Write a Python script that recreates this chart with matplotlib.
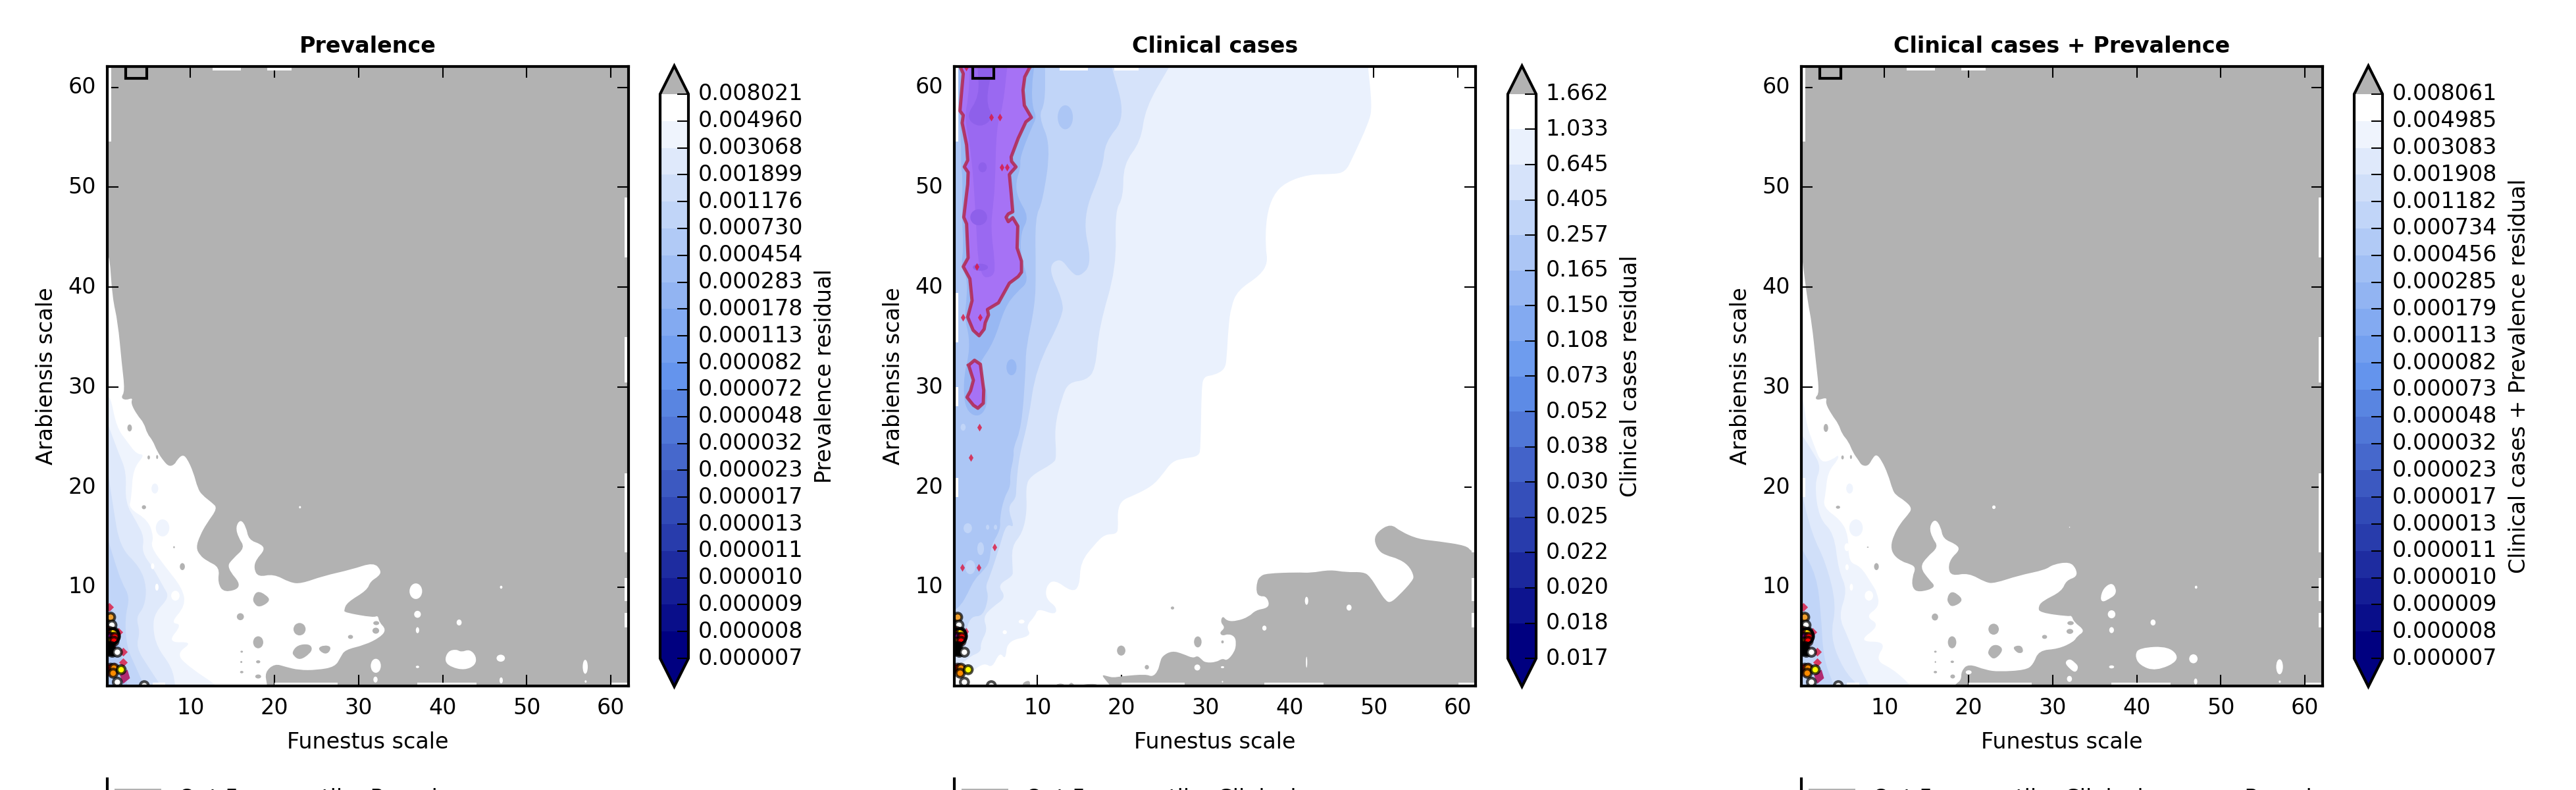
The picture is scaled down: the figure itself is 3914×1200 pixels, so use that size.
import matplotlib
matplotlib.use('Agg')
import matplotlib.pyplot as plt
from matplotlib.cm import ScalarMappable
from matplotlib.colors import BoundaryNorm, LinearSegmentedColormap
from matplotlib.lines import Line2D
from matplotlib.patches import Ellipse, PathPatch, Rectangle
from matplotlib.path import Path

# colorbar levels, as printed
levels_prev = [0.000007, 0.000008, 0.000009, 0.000010, 0.000011, 0.000013, 0.000017, 0.000023, 0.000032, 0.000048, 0.000072,
	0.000082, 0.000113, 0.000178, 0.000283, 0.000454, 0.000730, 0.001176, 0.001899, 0.003068, 0.004960, 0.008021]
levels_clin = [0.017, 0.018, 0.020, 0.022, 0.025, 0.030, 0.038, 0.052, 0.073, 0.108, 0.150, 0.165, 0.257, 0.405, 0.645, 1.033, 1.662]
levels_both = [0.000007, 0.000008, 0.000009, 0.000010, 0.000011, 0.000013, 0.000017, 0.000023, 0.000032, 0.000048, 0.000073,
	0.000082, 0.000113, 0.000179, 0.000285, 0.000456, 0.000734, 0.001182, 0.001908, 0.003083, 0.004985, 0.008061]

# prevalence: edge of the white area against the grey
prev_white = [(0.1, 43), (0.39, 43), (0.7, 39), (1.36, 36.5), (1.82, 32.4), (2.2, 29.6), (1.71, 28.95), (2.3, 28.7), (3.15, 28.95), (2.89, 28.4),
	(3.67, 27.2), (4.46, 26.43), (4.85, 25.34), (5.5, 24.68), (6.03, 23.59), (6.81, 22.6), (7.46, 22.06), (8.12, 22.28), (8.38, 22.71),
	(9.03, 23.26), (9.56, 22.93), (10.34, 21.51), (10.86, 19.87), (11.39, 19.21), (12.56, 18.45), (13.22, 17.9), (11.91, 16.37), (11.12, 15.16),
	(10.65, 13.96), (11.12, 13.19), (11.91, 12.65), (13.48, 11.99), (13.22, 10.46), (14.0, 9.41), (16.27, 10.02), (14.26, 11.99), (15.05, 12.87),
	(16.48, 13.96), (15.7, 14.95), (15.36, 16.04), (15.96, 16.81), (16.61, 16.04), (16.93, 14.73), (18.44, 14.29), (18.84, 13.74), (17.79, 12.76),
	(17.53, 11.88), (18.05, 11.01), (19.88, 11.33), (21.84, 10.46), (23.15, 10.35), (25.76, 11.12), (29.16, 11.77), (31.78, 12.49), (32.69, 11.66),
	(32.43, 11.12), (31.39, 10.57), (30.99, 9.69), (28.64, 8.49), (28.25, 7.72), (28.38, 7.46), (31.78, 6.96), (32.3, 7.18), (32.43, 6.52),
	(33.29, 5.75), (32.56, 4.99), (30.73, 4.22), (28.38, 3.74), (27.86, 3.02), (27.2, 2.03), (24.98, 1.71), (22.89, 1.71), (21.32, 2.03),
	(20.01, 2.36), (18.84, 1.49), (19.1, 0.28), (19.1, 0.1), (0.1, 0.1)]
prev_grey_holes = [[(17.4, 8.93), (17.92, 9.65), (18.97, 9.25), (19.54, 8.64), (18.2, 7.94), (17.53, 8.38)],
	[(22.1, 3.57), (22.76, 4.22), (24.07, 4.33), (24.51, 3.9), (24.2, 3.35), (23.02, 2.69), (22.24, 3.13)],
	[(25.11, 3.9), (25.9, 4.22), (26.76, 4.05), (26.42, 3.39), (25.76, 3.35)]]
prev_grey_spots = [(22.97, 5.8, 0.72, 0.62), (18.05, 4.49, 0.6, 0.6), (15.93, 7.05, 0.42, 0.35), (9.03, 12.06, 0.3, 0.35), (2.76, 25.93, 0.27, 0.35),
	(4.46, 18.0, 0.25, 0.2), (5.03, 22.98, 0.15, 0.2), (6.03, 23.02, 0.12, 0.2), (32.04, 5.65, 0.4, 0.3), (32.09, 6.41, 0.35, 0.2), (29.03, 5.03, 0.3, 0.2),
	(16.09, 3.55, 0.15, 0.1), (16.04, 2.52, 0.12, 0.1), (16.09, 1.51, 0.2, 0.12), (18.05, 2.54, 0.25, 0.15), (18.05, 1.07, 0.35, 0.2), (8.04, 14.0, 0.1, 0.1)]
prev_white_blob = [(40.2, 2.6), (40.6, 3.6), (41.6, 3.8), (42.2, 3.5), (43.2, 3.8), (44.0, 3.1), (43.9, 2.2), (42.6, 1.7), (41.0, 2.0)]
prev_white_spots = [(36.8, 9.6, 0.75, 0.78), (37.0, 7.29, 0.4, 0.35), (37.0, 5.7, 0.2, 0.3), (23.02, 18.0, 0.12, 0.12), (32.04, 2.14, 0.6, 0.7), (32.0, 0.76, 0.25, 0.3),
	(37.0, 2.03, 0.2, 0.12), (46.9, 2.9, 0.5, 0.35), (56.95, 2.04, 0.3, 0.7), (41.95, 6.47, 0.3, 0.3), (46.95, 10.0, 0.15, 0.15), (46.95, 0.68, 0.2, 0.3), (57.0, 0.57, 0.12, 0.12)]
prev_bands = [[(0.1, 29), (0.5, 29), (1.2, 26), (2.5, 24.5), (3.6, 23.3), (4.59, 23.26), (3.15, 21.84), (2.97, 18.88), (2.63, 17.9), (4.98, 16.7), (5.63, 14.95),
		(5.24, 14.07), (6.94, 12.1), (9.03, 9.91), (9.42, 8.16), (7.59, 6.41), (9.03, 6.3), (7.2, 4.44), (10.34, 4.55), (8.28, 3.35), (9.82, 2.03), (12.95, 0.28), (12.95, 0.1)],
	[(0.1, 26.5), (1.4, 23.5), (2.4, 21.5), (2.2, 18.5), (3.6, 16.5), (4.5, 15), (4.2, 13.5), (5.5, 12), (6.8, 10), (7.5, 9), (5.8, 7.5), (5.5, 6), (6, 4), (7.8, 2), (8.2, 0.1)],
	[(0.1, 22), (0.8, 18), (1.6, 14), (4, 12), (4.8, 10), (4.5, 8), (3.5, 7), (4, 5.5), (3.5, 4), (5, 2), (6.5, 0.1)],
	[(0.1, 15), (1, 12.5), (1.8, 10.5), (2.8, 9), (2.2, 7), (2.4, 4), (3.5, 2), (4.5, 0.1)],
	[(0.1, 8.5), (1.2, 7), (1.8, 3), (2.5, 0.1)]]
prev_band_values = [0.004, 0.0025, 0.0015, 0.0009, 0.0006]
prev_light_spots = [(6.68, 15.93, 0.8, 0.85), (5.76, 19.87, 0.4, 0.5)]
prev_clear_spots = [(8.2, 9.15, 0.5, 0.5), (5.5, 12.1, 0.2, 0.3), (6.0, 10.0, 0.2, 0.35)]

# clinical cases: nested tints, lightest first
clin_bands = [[(49.3, 62.1), (49.8, 58), (49.4, 56.5), (47.5, 53), (46.6, 51.5), (45, 51.3), (42.3, 51.3), (39.5, 50.5), (38, 49.2), (37.2, 47), (37.1, 44), (37.4, 42.5), (36.5, 41.2), (33.8, 39.7), (33, 38),
		(32.7, 36), (32.5, 33), (32.3, 31.8), (31, 31.2), (29.8, 31.1), (29.5, 30), (29.4, 24), (29.2, 23.1), (27.5, 22.9), (26, 22.6), (24.8, 21.2), (23.6, 20.1), (21.5, 19.2), (20, 18.7), (19.5, 17.6), (19.6, 16),
		(19.4, 15.3), (18, 15.3), (16.8, 14.3), (15.1, 12.5), (15, 10.1), (14.1, 9.5),
		(12, 10.8), (11, 10.1), (11, 8.8), (12.3, 8), (12.1, 7.2), (10.05, 7.9), (9.7, 7.1), (8.6, 6.1), (9.3, 5.1), (6.4, 4.65), (6.2, 2.7), (5.5, 3.55), (4.6, 1.9), (3.7, 2.45),
		(2.2, 1.6), (1.5, 1.1), (0.1, 0.9)],
	[(25.7, 62.1), (22.8, 57.9), (22.3, 54.6), (20.2, 52.3), (20.2, 49), (19.2, 47.6), (19.4, 42), (17.3, 36), (16.9, 31.8), (15.8, 30.7), (13.7, 30.5), (12.9, 29), (12, 26),
		(12.27, 23), (11.9, 22.4), (9.1, 21.1), (8.6, 20), (8.75, 17.6), (8.2, 15.4), (6.9, 14.1), (7.05, 11.7), (7.05, 11.1), (5.2, 10.2), (6.3, 9), (4.6, 8), (3.5, 7), (4.06, 5.75),
		(3.2, 4.4), (3.3, 3.55), (2, 3.1), (1.2, 2.45), (0.3, 2.25), (0.1, 2.25)],
	[(18.8, 62.1), (20.5, 57), (18, 54.5), (17.8, 52), (15.3, 47), (16.5, 42.4), (15, 41), (14, 41.5), (12.7, 43), (11.2, 42), (13, 38.7), (13, 37.1), (9.8, 31.9), (8.9, 26.6),
		(7.8, 23.1), (7.45, 20), (7.45, 18.9), (6.4, 18), (7.3, 15.9), (6.3, 16.4), (5.5, 14.1), (4.3, 11), (3.8, 10.1), (4.2, 9), (3.5, 7.1), (2.1, 7.1), (1.5, 5.75), (0.9, 3.55), (0.1, 3.1)],
	[(10.9, 62.1), (10.9, 58.4), (10.1, 57.1), (11.6, 54.2), (10.6, 48.5), (9.7, 47), (9.8, 41.5), (9.7, 38.2), (8.6, 33.8), (8.6, 31.8), (8.1, 26), (7.1, 23.9), (7.2, 23.1), (6.7, 21.3),
		(6.8, 20.1), (6, 18.9), (5.5, 16.9), (5.6, 15.8), (4.45, 14.1), (4.3, 12.5), (3.5, 11.6), (2.5, 10.8), (1.7, 9.4), (0.9, 8.2), (0.1, 7.7)]]
clin_band_values = [0.8, 0.5, 0.3, 0.2]
clin_dark = [(9.6, 62.1), (9.3, 60), (9.4, 58), (9.9, 57), (9.3, 56), (7.9, 53), (8, 52), (7.4, 50.5), (7.6, 49), (9, 47), (8, 45.5), (8, 43), (9, 40.6), (7.5, 39.5), (6.1, 38), (4.8, 34.5), (3, 32.3),
	(2.6, 31), (4, 30), (4, 28), (3, 27), (1.7, 27.5), (1.2, 29), (1.3, 31.5), (1.8, 33), (1.9, 35), (1.3, 37), (1.6, 39), (1.6, 41), (0.9, 42), (1.2, 44), (1, 47), (1.1, 51), (0.9, 52), (0.9, 55), (0.6, 57.5), (0.6, 62.1)]
clin_dark_value = 0.157
clin_spots = [(16.2, 57, 0.6, 0.7, 0.3), (13.3, 57, 0.9, 1.2, 0.2), (6.9, 32, 0.6, 0.8, 0.157), (3.23, 13.86, 0.4, 0.65, 0.3), (1.7, 15.9, 0.5, 0.5, 0.3), (2, 12, 0.6, 0.7, 0.3),
	(2.9, 9, 0.5, 0.4, 0.3), (4.06, 16, 0.2, 0.25, 0.3), (5, 16, 0.2, 0.25, 0.3), (1.15, 26, 0.3, 0.35, 0.3), (8.1, 6.56, 0.35, 0.2, 1.2), (6.1, 5.5, 0.25, 0.2, 1.2)]

clin_grey = [(18.7, 0.1), (18.2, 0.6), (17.6, 1.25), (18.3, 1.1), (19, 0.95), (20, 1.1), (22.9, 1.3), (23.65, 1.03), (24.3, 1.58), (24.56, 2.45), (24.82, 3.11), (26.0, 3.65), (27.31, 3.33),
	(28.49, 2.89), (29.0, 3.15), (29.45, 2.84), (29.92, 2.45), (31.23, 2.49), (32.01, 2.89), (32.54, 2.63), (33.45, 3.55), (33.63, 4.42), (33.45, 5.08), (32.67, 5.34), (32.01, 5.12),
	(31.62, 5.45), (32.33, 5.95), (31.75, 6.5), (32.01, 7.16), (32.54, 6.61), (33.71, 6.61), (35.15, 7.05), (35.93, 7.7), (37.37, 7.92), (37.56, 8.47), (37.11, 9.12), (36.46, 9.06),
	(36.01, 9.45), (36.09, 10.55), (36.46, 11.09), (37.24, 11.38), (40.9, 11.49), (42.47, 11.42), (44.82, 11.75), (46.65, 11.49), (48.75, 11.53), (49.53, 11.09), (50.58, 9.67),
	(51.37, 8.69), (51.93, 8.42), (52.93, 9.12), (54.63, 10.66), (54.76, 11.2), (54.11, 12.19), (52.93, 12.84), (51.5, 13.17), (50.58, 13.61), (50.0, 14.7), (50.45, 15.58), (52.01, 16.35),
	(53.18, 15.58), (55.28, 14.81), (57.63, 14.6), (61.03, 14.16), (61.55, 13.61), (62.1, 13.61), (62.1, 0.1)]
clin_grey_bits = [[(8.2, 0.1), (8.3, 0.5), (9.1, 0.7), (9.1, 0.1)], [(12, 0.1), (12.5, 0.4), (13.2, 0.3), (13.2, 0.1)], [(13.6, 0.1), (14, 0.55), (14.5, 0.1)], [(15, 0.1), (15.5, 0.3), (17, 0.35), (17.2, 0.1)]]
clin_grey_spots = [(19.95, 3.66, 0.5, 0.5), (23, 2.0, 0.25, 0.22), (26.05, 7.92, 0.2, 0.15), (29.06, 4.53, 0.45, 0.55), (32, 4.53, 0.15, 0.15)]
clin_white_spots = [(42, 8.64, 0.2, 0.4), (47.05, 7.96, 0.3, 0.3), (36.98, 5.91, 0.25, 0.25), (29.0, 1.97, 0.35, 0.3), (32, 2.0, 0.2, 0.1), (42, 2.5, 0.08, 0.55), (32, 0.55, 0.08, 0.08)]

# purple area with the crimson outline
purple_main = [(9.14, 62.1), (8.48, 61.04), (8.27, 59.72), (8.43, 58.19), (9.27, 56.98), (8.61, 56.54), (7.7, 54.9), (6.86, 53.03), (6.91, 52.59), (7.44, 52.04), (6.86, 51.5), (6.65, 51.27),
	(6.86, 49.41), (7.05, 47.55), (6.52, 47.33), (6.26, 47.0), (6.52, 46.56), (7.05, 46.96), (7.65, 46.12), (7.57, 43.93), (8.09, 42.61), (8.09, 41.51), (7.7, 41.07), (6.65, 40.41), (5.35, 38.44),
	(4.04, 37.78), (4.17, 37.23), (3.78, 36.46), (3.65, 35.81), (3.05, 35.15), (2.34, 35.7), (1.69, 37.01), (2.21, 38.66), (1.95, 40.85), (1.16, 42.06), (1.74, 42.94), (1.56, 46.34), (1.22, 47.0),
	(1.69, 50.29), (1.74, 51.5), (1.29, 52.04), (1.69, 52.7), (1.56, 54.24), (1.03, 56.43), (1.16, 57.2), (0.77, 57.64), (1.03, 60.16), (1.16, 61.37), (0.77, 62.1)]
purple_lobe = [(1.8, 32.2), (2.5, 32.7), (3.2, 32.3), (3.6, 29.7), (3.55, 28.4), (2.9, 27.9), (2.37, 28.2), (1.6, 29), (2.03, 29.65), (2.37, 30.7)]
purple_mid = [(1.95, 62.1), (6.4, 62.1), (5.87, 58), (5.1, 56), (4.95, 50.3), (4.7, 48.1), (4.43, 45.9), (4.95, 42.4), (4.8, 41), (3, 41), (2.6, 48.1), (2.1, 53.6), (1.3, 57), (1.8, 59)]
purple_deep = [(2.86, 62.1), (4.7, 62.1), (3.8, 58.6), (4.8, 56.9), (3.1, 55.9), (1.4, 57), (3.1, 59.1)]
purple_deep_spots = [(3, 47, 1.0, 0.8), (3.46, 52, 0.5, 0.5), (3.2, 42, 0.9, 0.35)]

crimson_x = [4.5, 5.48, 6.4, 5.7, 2.73, 3.12, 1.08, 3.07, 2.03, 4.9, 1.07, 3.02, 1.5, 1.5]
crimson_y = [57.0, 57.0, 52.0, 52.0, 42.06, 37.0, 37.0, 26.0, 23.0, 14.0, 12.0, 12.0, 5.57, 62.0]

# crimson bits under the points of the two prevalence maps
residue_x = [0.35, 1.45, 0.93, 1.97, 1.97, 0.67, 1.0, 0.4]
residue_y = [8.05, 5.5, 3.68, 3.57, 2.5, 1.8, 2.0, 1.5]
residue_box = [(1.6, 1.2), (2.5, 1.75), (2.8, 0.9), (2.0, 0.35)]

# the clinical cases + prevalence map
both_white = [(0.1, 43), (0.2, 43), (0.4, 41.5), (0.87, 38.5), (1.33, 36.5), (1.85, 32.4), (2.25, 29.4), (1.71, 28.95), (2.05, 28.69), (3.18, 29), (2.96, 28.4), (3.75, 27.2), (4.53, 26.32), (4.92, 25.34),
	(5.71, 24.57), (6.23, 23.48), (6.89, 22.71), (7.28, 22.17), (8.07, 22.12), (8.59, 22.93), (9.03, 23.3), (9.63, 22.71), (10.41, 21.29), (10.94, 19.76), (11.33, 19.21), (12.38, 18.67), (13.29, 17.9),
	(12.77, 17.24), (11.86, 16.37), (11.07, 15.16), (10.73, 14.07), (11.07, 13.19), (12.12, 12.54), (12.9, 12.36), (13.74, 11.99), (13.29, 11.01), (13.29, 9.91), (14.08, 9.47), (16.17, 9.98), (15.25, 10.79),
	(14.21, 11.99), (14.99, 12.98), (16.43, 14.03), (15.65, 14.95), (15.31, 16.04), (15.99, 16.87), (16.69, 16.04), (16.95, 14.84), (18.52, 14.29), (18.97, 13.74), (17.87, 12.87), (17.56, 11.88), (18, 11.12),
	(19.96, 11.44), (22.05, 10.46), (23.1, 10.39), (25.97, 11.18), (29.11, 11.73), (30.03, 12.28), (32.0, 12.54), (32.77, 11.88), (32.9, 11.05), (31.6, 10.68), (31.07, 9.58), (28.72, 8.6), (28.27, 7.99),
	(28.46, 7.46), (31.85, 7.07), (32.25, 7.18), (32.51, 6.52), (33.87, 5.65), (32.9, 5.1), (32.51, 4.55), (30.68, 3.83), (28.33, 3.68), (27.67, 2.25), (26.76, 1.71), (23.62, 1.55), (22.05, 1.71), (19.96, 2.36),
	(19.12, 1.6), (19.12, 0.72), (18.4, 0.28), (18.4, 0.1), (0.1, 0.1)]
both_grey_holes = [[(17.42, 8.93), (17.87, 9.58), (18.65, 9.36), (19.39, 8.64), (18.08, 7.99), (17.56, 8.38)],
	[(22.26, 3.57), (22.78, 4.22), (23.62, 4.22), (24.14, 3.68), (23.1, 2.73), (22.44, 3.13)],
	[(25.24, 4.05), (26.24, 4.22), (26.55, 3.57), (26.1, 3.35), (25.58, 3.57)]]
both_grey_spots = [(3.02, 25.93, 0.27, 0.4), (4.46, 18.0, 0.25, 0.15), (5.0, 22.98, 0.15, 0.2), (6.0, 23.02, 0.12, 0.2), (9.03, 12.06, 0.28, 0.35), (15.99, 7.02, 0.38, 0.35), (22.97, 5.8, 0.62, 0.55),
	(18.03, 4.49, 0.5, 0.6), (29.03, 5.03, 0.3, 0.2), (32.12, 6.41, 0.38, 0.2), (32.04, 5.58, 0.4, 0.25), (16.04, 3.55, 0.15, 0.1), (16.04, 2.52, 0.08, 0.1), (16.04, 1.51, 0.2, 0.12), (18.05, 2.54, 0.2, 0.12),
	(18.1, 1.07, 0.28, 0.2), (8.0, 14.0, 0.1, 0.06)]
both_white_blobs = [[(35.65, 8.93), (36.04, 9.91), (37, 10.46), (37.53, 9.91), (37.48, 9.25), (36.69, 8.82), (35.91, 8.49)],
	[(31.41, 2.47), (31.99, 2.87), (32.64, 2.47), (33.09, 2.03), (32.72, 1.42), (31.99, 1.86)],
	[(39.76, 3.2), (40.3, 3.95), (43.9, 4.1), (45.2, 2.7), (42.26, 1.58), (40.3, 2.2)]]
both_white_spots = [(37, 7.29, 0.45, 0.4), (37, 5.71, 0.28, 0.3), (23, 18, 0.2, 0.18), (32, 16, 0.06, 0.05), (31.99, 0.83, 0.3, 0.3), (37, 2.03, 0.3, 0.15), (20, 1.49, 0.35, 0.2), (46.73, 2.84, 0.5, 0.45),
	(47, 0.57, 0.2, 0.3), (41.93, 6.47, 0.3, 0.3), (47.05, 10, 0.15, 0.15), (56.98, 2.04, 0.4, 0.75), (57, 0.55, 0.12, 0.12)]
both_bands = [[(0.1, 29), (0.35, 28.7), (0.75, 26.1), (1.66, 24.1), (2.45, 22.4), (3.9, 22.8), (4.5, 23.26), (4.5, 22.8), (3.23, 21.5), (2.97, 19.3), (2.66, 18), (4.8, 16.7), (5.7, 15.2), (5.7, 12.5), (7.15, 12.1),
		(8.46, 10.35), (9.1, 9.5), (9.4, 8.05), (7.7, 7.07), (9.5, 6.2), (6.8, 4.55), (10.3, 4.55), (8.85, 2.7), (11, 1.8), (13, 0.28), (13, 0.1)],
	[(0.1, 25.3), (1.5, 23.5), (2.45, 22), (1.66, 20.4), (2.18, 16.9), (4, 15.4), (4.5, 11.7), (5.6, 9.7), (4.5, 7.1), (5.6, 5.1), (6.9, 2.25), (8.2, 0.1)],
	[(0.1, 19.5), (1.4, 15.2), (3, 12.5), (4.3, 8.2), (3.5, 5.1), (5.05, 1.8), (6.9, 0.1)],
	[(0.1, 13.9), (1.9, 11.2), (2.45, 7.3), (2.7, 2.9), (4, 0.1)]]
both_band_values = [0.004, 0.0025, 0.0015, 0.0009]
both_light_spots = [(5.84, 19.87, 0.4, 0.5), (6.6, 15.93, 0.8, 0.85)]
both_clear_spots = [(5.53, 14, 0.3, 0.4), (8.14, 9.15, 0.5, 0.5), (6.05, 10, 0.2, 0.35), (5.53, 12, 0.2, 0.3)]

# grid cells left white along the frame: x0, y0, x1, y1
top_strips = [(12.6, 61.7, 16, 62.1), (19.1, 61.7, 22, 62.1)]
right_strips = [(61.65, 43, 62.1, 49), (61.65, 30.5, 62.1, 35), (61.65, 13.5, 62.1, 21.4), (61.65, 8.6, 62.1, 10.9), (61.65, 6, 62.1, 7.4)]
bottom_strips = [(5.5, 0.1, 7, 0.48), (20, 0.1, 27.5, 0.48), (37, 0.1, 44, 0.48), (60.1, 0.1, 62.1, 0.48)]
clin_left_strips = [(0.1, 54.6, 0.55, 62.1), (0.1, 34.5, 0.55, 39.4), (0.1, 28.1, 0.55, 30), (0.1, 19, 0.55, 20.9)]
both_left_strips = [(0.1, 54.6, 0.55, 62.1), (0.1, 19, 0.55, 20.9)]
prev_left_strips = [(0.1, 54.6, 0.55, 62.1)]

# points in the lower left corner
point_x = [0.5, 0.65, 0.3, 0.9, 0.5, 1.0, 0.35, 0.9, 0.5, 0.2, 0.7, 1.3, 0.5, 0.9, 0.8, 1.75, 1.3, 4.5]
point_y = [7.0, 6.2, 5.6, 5.5, 5.0, 5.0, 4.5, 4.6, 4.1, 3.6, 3.5, 3.5, 1.9, 1.9, 1.4, 1.75, 0.5, 0.15]
point_colors = ['#f0a030', 'white', 'red', 'gold', 'purple', 'red', 'orange', 'red', 'black', 'black', 'black', 'white', 'red', 'darkorange', 'darkorange', 'yellow', 'white', 'white']
ring_x = [0.65]
ring_y = [5.1]

box_x = [2.3, 4.8]
box_y = [60.9, 62.1]
ticks = [10, 20, 30, 40, 50, 60]
titles = ['Prevalence', 'Clinical cases', 'Clinical cases + Prevalence']
bar_labels = ['Prevalence residual', 'Clinical cases residual', 'Clinical cases + Prevalence residual']
legend_labels = ['Out 5 percentile: Prevalence', 'Out 5 percentile: Clinical', 'Out 5 percentile: Clinical cases + Prevalence']

W, H = 3914.0, 1200.0
GREY = '#b2b2b2'
ax_left = [163, 1450, 2737]
bar_left = [1003, 2291, 3577]

plt.rcParams['font.family'] = 'DejaVu Sans'
plt.rcParams['font.size'] = 8
plt.rcParams['axes.linewidth'] = 1.0
plt.rcParams['ytick.alignment'] = 'center'

cmap = LinearSegmentedColormap.from_list('resid', ['navy', 'cornflowerblue', 'white'], N=256)
cmap.set_over(GREY)
cmap.set_under('navy')


def on_frame(p):
	return p[0] <= 0.1 or p[0] >= 62.1 or p[1] <= 0.1 or p[1] >= 62.1


def rounded(pts):
	# contour lines are soft, so go through the edge midpoints with the read points as control points
	# points on the frame stay sharp
	ctrl = []
	for p in pts:
		ctrl.append(p)
		if on_frame(p):
			ctrl.append(p)
	n = len(ctrl)
	start = ((ctrl[-1][0]+ctrl[0][0])/2, (ctrl[-1][1]+ctrl[0][1])/2)
	verts = [start]
	codes = [Path.MOVETO]
	for j in range(n):
		a = ctrl[j]
		b = ctrl[(j+1) % n]
		verts += [a, ((a[0]+b[0])/2, (a[1]+b[1])/2)]
		codes += [Path.CURVE3, Path.CURVE3]
	return Path(verts, codes)


def fill(ax, pts, color, z):
	ax.add_patch(PathPatch(rounded(pts), facecolor=color, edgecolor='none', lw=0, zorder=z))


def spots(ax, rows, color, z):
	for cx, cy, rx, ry in rows:
		ax.add_patch(Ellipse((cx, cy), 2*rx, 2*ry, color=color, lw=0, zorder=z))


def strips(ax, rows):
	for x0, y0, x1, y1 in rows:
		ax.add_patch(Rectangle((x0, y0), x1-x0, y1-y0, color='white', lw=0, zorder=6))


def points(ax):
	ax.scatter(point_x, point_y, s=9, c=point_colors, edgecolors=(0, 0, 0, 0.7), linewidths=1, zorder=10)
	ax.scatter(ring_x, ring_y, s=30, facecolors='none', edgecolors='black', linewidths=1, zorder=11)


def residue(ax):
	ax.scatter(residue_x, residue_y, s=5, marker='D', color='crimson', alpha=0.8, lw=0, zorder=7)
	ax.fill(*zip(*residue_box), color='#b02a70', lw=0, zorder=7)


fig = plt.figure(figsize=(W/300, H/300), dpi=300)
panels = [levels_prev, levels_clin, levels_both]
for i in range(3):
	levels = panels[i]
	norm = BoundaryNorm(levels, cmap.N)
	ax = fig.add_axes([ax_left[i]/W, 1-1042.3/H, 792/W, 941.6/H])
	ax.set_xlim(0.1, 62.1)
	ax.set_ylim(0.1, 62.1)
	if i == 1:
		ax.set_facecolor('white')
		for band, value in zip(clin_bands, clin_band_values):
			fill(ax, band + [(0.1, 0.1), (0.1, 62.1)], cmap(norm(value)), 2)
		fill(ax, clin_dark, cmap(norm(clin_dark_value)), 2)
		for cx, cy, rx, ry, value in clin_spots:
			ax.add_patch(Ellipse((cx, cy), 2*rx, 2*ry, color=cmap(norm(value)), lw=0, zorder=2))
		fill(ax, clin_grey, GREY, 3)
		for bit in clin_grey_bits:
			fill(ax, bit, GREY, 3)
		spots(ax, clin_grey_spots, GREY, 3)
		spots(ax, clin_white_spots, 'white', 4)
		strips(ax, top_strips + right_strips + bottom_strips[1:] + clin_left_strips)
		# purple levels and their outline, these keep their corners
		for shape in [purple_main, purple_lobe]:
			ax.fill(*zip(*shape), color='#a672f5', lw=0, zorder=7)
			xs, ys = zip(*shape)
			ax.plot(xs + xs[:1], ys + ys[:1], color='#b4264e', alpha=0.85, lw=1.2, zorder=9)
		fill(ax, purple_mid, '#9a69f1', 8)
		fill(ax, purple_deep, '#8e60ea', 8)
		spots(ax, purple_deep_spots, '#8e60ea', 8)
		ax.scatter(crimson_x, crimson_y, s=4, marker='d', color='crimson', alpha=0.8, lw=0, zorder=9)
	else:
		ax.set_facecolor(GREY)
		white = prev_white if i == 0 else both_white
		bands = prev_bands if i == 0 else both_bands
		values = prev_band_values if i == 0 else both_band_values
		fill(ax, white, 'white', 1)
		for band, value in zip(bands, values):
			fill(ax, band + [(0.1, 0.1)], cmap(norm(value)), 2)
		spots(ax, prev_light_spots if i == 0 else both_light_spots, cmap(norm(values[0])), 3)
		spots(ax, prev_clear_spots if i == 0 else both_clear_spots, 'white', 3)
		for hole in (prev_grey_holes if i == 0 else both_grey_holes):
			fill(ax, hole, GREY, 4)
		spots(ax, prev_grey_spots if i == 0 else both_grey_spots, GREY, 4)
		if i == 0:
			fill(ax, prev_white_blob, 'white', 4)
			spots(ax, prev_white_spots, 'white', 4)
			strips(ax, top_strips + right_strips + bottom_strips + prev_left_strips)
		else:
			for blob in both_white_blobs:
				fill(ax, blob, 'white', 4)
			spots(ax, both_white_spots, 'white', 4)
			strips(ax, top_strips + right_strips + bottom_strips + both_left_strips)
		residue(ax)
	points(ax)
	# the black box at the top
	ax.add_patch(Rectangle((box_x[0], box_y[0]), box_x[1]-box_x[0], box_y[1]-box_y[0], fill=False, ec='black', lw=1, zorder=12))

	ax.set_xticks(ticks)
	ax.set_yticks(ticks)
	ax.tick_params(direction='in', length=4, width=0.5, top=True, right=True, labelsize=8, pad=4)
	ax.set_xlabel('Funestus scale', fontsize=8, labelpad=4.5)
	ax.set_ylabel('Arabiensis scale', fontsize=8, labelpad=4)
	ax.set_title(titles[i], fontsize=8, fontweight='bold', pad=5)
	for s in ax.spines.values():
		s.set_zorder(20)

	cax = fig.add_axes([bar_left[i]/W, 1-1043/H, 43/W, 943/H])
	cb = fig.colorbar(ScalarMappable(norm=norm, cmap=cmap), cax=cax, extend='both', spacing='uniform', ticks=levels)
	cb.ax.set_yticklabels(['%.6f' % v if i != 1 else '%.3f' % v for v in levels])
	cb.ax.tick_params(direction='in', length=4, width=0.5, labelsize=8, pad=3.5)
	cb.ax.minorticks_off()
	cb.outline.set_linewidth(1)
	cb.set_label(bar_labels[i], fontsize=8, labelpad=4)

	# legend box runs off the bottom of the figure
	x0 = ax_left[i]
	fig.add_artist(Line2D([x0/W, x0/W], [1-1183/H, 0], color='black', lw=1))
	fig.add_artist(Rectangle((x0+11, 0), 71, 2.5, transform=None, color=GREY, lw=0))
	fig.text((x0+108)/W, 1-1196.5/H, legend_labels[i], fontsize=8, va='top', ha='left')

fig.savefig('out.png', dpi=300)
